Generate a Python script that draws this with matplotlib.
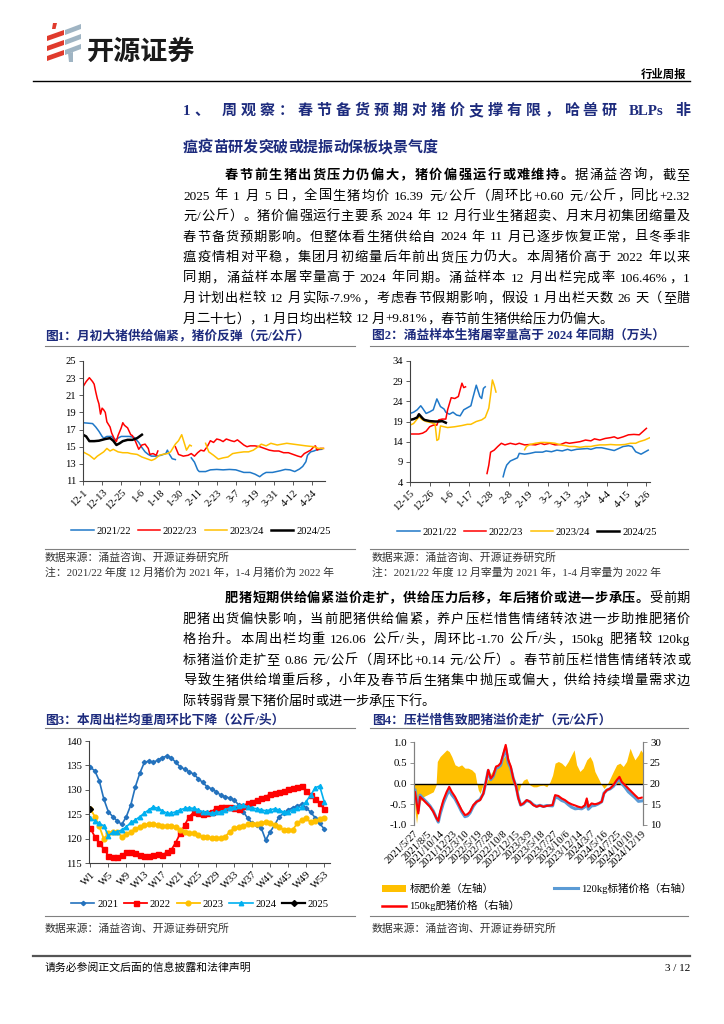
import re
import numpy as np
import matplotlib
matplotlib.use('Agg')
import matplotlib.pyplot as plt
from matplotlib.lines import Line2D
from matplotlib.patches import Polygon, Patch

FAM = ['Liberation Serif', 'Noto Sans CJK SC']
plt.rcParams['font.family'] = FAM
plt.rcParams['axes.unicode_minus'] = False

W, H = 724, 1024
NAVY = '#1d2b7d'
BLUE = '#1f78c8'
RED = '#ff0000'
YELLOW = '#ffc000'

# ---------------- chart 1: 猪价 (元/公斤), day index from 12-1 ----------------
c1_labels = ['12-1', '12-13', '12-25', '1-6', '1-18', '1-30', '2-11', '2-23',
             '3-7', '3-19', '3-31', '4-12', '4-24']
c1_day_2122 = [0, 6, 8, 10, 12, 13, 15, 18, 20, 22, 24, 27, 29, 32, 35, 37, 39, 41, 43, 46,
               49, 52, 53, 54, 56, 58, None,
               68, 70, 72, 73, 77, 80, 84, 88, 92, 96, 101, 105, 108, 111, 113, 115, 119, 124,
               127, 130, 133, 136, 138, 140, 141, 143, 145, 147, 150]
c1_val_2122 = [17.8, 17.7, 17.3, 16.8, 16.2, 16.0, 16.2, 16.2, 15.8, 16.0, 16.2, 16.2, 16.2, 16.1,
               15.5, 14.9, 14.4, 14.1, 13.9, 13.9, 14.0, 14.2, 14.6, 14.2, 13.6, 13.5, None,
               13.7, 13.2, 12.3, 12.1, 12.1, 12.3, 12.35, 12.3, 12.35, 12.3, 12.0, 12.0, 11.8,
               11.5, 11.8, 12.0, 12.0, 12.2, 12.35, 12.3, 12.1, 12.4, 12.7, 13.25, 14.0, 14.4,
               14.5, 14.65, 14.7]
c1_day_2223 = [0, 2, 4, 6, 7, 8, 9, 10, 11, 12, 13, 14, 15, 17, 18, 20, 21, 22, 24, 25,
               26, 28, 30, 31, 33, 35, 37, 39, 41, 42, 44, 46, 47, None,
               58, 60, 63, 66, 68, 70, 72, 74, 76, 78, 80, 82, 84, 86, 88, 90, 93, 95, 97, 99,
               101, 103, 105, 108, 111, 114, 117, 120, 123, 126, 129, 132, 135, 137, 139, 141,
               143, 145, 146, 147, 149, 151]
c1_val_2223 = [22.0, 22.6, 23.05, 22.6, 22.3, 21.4, 20.6, 20.0, 18.8, 19.5, 19.3, 19.0, 17.9,
               17.3, 16.6, 15.8, 15.6, 16.3, 17.2, 17.8, 17.5, 17.2, 16.4, 16.3, 15.6, 14.7,
               15.2, 15.3, 14.8, 14.1, 14.2, 14.0, 14.5, None,
               15.0, 14.1, 13.9, 14.0, 14.2, 13.9, 14.3, 14.6, 14.5, 15.0, 15.7, 15.5, 15.9,
               15.8, 15.6, 15.9, 15.7, 15.6, 15.8, 15.5, 15.2, 15.0, 15.1, 15.1, 15.0, 14.8,
               14.6, 14.5, 14.5, 14.3, 14.3, 14.1, 13.9, 13.8, 14.2, 14.4, 14.6, 15.0, 15.1,
               14.6, 14.8, 14.8]
c1_day_2324 = [0, 4, 7, 9, 13, 15, 17, 19, 22, 25, 28, 30, 34, 37, 40, 43, 45, 48, 50, 53,
               55, 58, 60, 62, 63, 65, 67, 68, None,
               77, 79, 82, 85, 88, 91, 94, 97, 101, 104, 107, 110, 112, 115, 118, 122, 125,
               128, 132, 136, 140, 145, 148, 151]
c1_val_2324 = [14.4, 14.0, 13.55, 13.9, 14.4, 14.8, 14.5, 14.7, 14.4, 14.3, 14.3, 14.2, 14.1,
               13.8, 13.6, 13.4, 13.55, 14.0, 14.1, 14.2, 14.4, 15.3, 15.7, 16.4, 15.8, 14.6,
               15.2, 15.1, None,
               15.4, 14.4, 14.0, 13.55, 13.7, 13.8, 14.2, 14.3, 14.4, 14.4, 14.6, 15.0, 15.3,
               15.1, 15.4, 15.2, 15.3, 15.4, 15.3, 15.2, 15.1, 15.0, 14.8, 14.8]
c1_day_2425 = [0, 2, 4, 7, 10, 14, 17, 19, 21, 23, 25, 28, 31, 34, 37]
c1_val_2425 = [16.4, 16.2, 15.65, 15.65, 15.7, 15.9, 16.0, 15.7, 15.2, 15.4, 15.65, 15.8, 15.8,
               16.0, 16.4]

# ---------------- chart 2: 屠宰量 (万头), day index from 12-15 ----------------
c2_labels = ['12-15', '12-26', '1-6', '1-17', '1-28', '2-8', '2-19', '3-2', '3-13', '3-24',
             '4-4', '4-15', '4-26']
c2_day_2122 = [0, 2, 4, 6, 7, 9, 11, 13, 15, 17, 19, 20, 22, 24, 26, 28, 30, 32, 34, 35, 37,
               39, 40, 41, 42, None,
               52, 53, 54, 56, 58, 60, 61, 64, 67, 70, 74, 76, 79, 82, 85, 88, 90, 93, 96, 99,
               101, 104, 107, 111, 114, 116, 119, 122, 124, 126, 128, 129, 131, 133]
c2_val_2122 = [21.0, 21.3, 21.9, 22.9, 22.3, 21.0, 21.4, 21.9, 24.6, 22.7, 22.1, 21.3, 20.8,
               21.3, 20.6, 20.4, 21.9, 22.4, 22.9, 24.7, 28.0, 25.2, 24.7, 27.2, 27.6, None,
               5.3, 7.0, 8.2, 9.2, 9.6, 10.0, 11.1, 10.9, 11.1, 11.4, 11.4, 11.7, 11.5, 11.9,
               11.7, 12.1, 11.8, 12.1, 12.2, 12.3, 12.1, 12.5, 12.5, 12.1, 11.8, 12.2, 12.8,
               13.0, 12.8, 11.5, 11.1, 10.9, 11.4, 11.9]
c2_day_2223 = [0, 5, 7, 9, 11, 13, 15, 16, 18, 20, 21, 23, 25, 27, 29, 30, 31, None,
               43, 44, 45, 47, 49, 51, 53, 56, 59, 61, 64, 67, 70, 73, 75, 78, 81, 84, 87, 89,
               92, 95, 98, 101, 103, 106, 109, 112, 114, 116, 119, 122, 125, 128, 130, 132]
c2_val_2223 = [15.9, 15.9, 16.1, 16.6, 17.7, 18.1, 18.1, 19.4, 19.6, 19.6, 21.9, 24.9, 24.7,
               25.2, 28.5, 27.4, 27.6, None,
               6.1, 8.2, 11.4, 11.9, 12.8, 13.6, 13.2, 13.6, 13.3, 13.6, 13.2, 13.3, 13.2, 13.6,
               13.3, 13.6, 13.2, 13.3, 13.8, 13.6, 13.8, 14.0, 14.4, 14.2, 14.7, 14.4, 14.8,
               15.0, 15.2, 14.8, 15.2, 15.7, 15.8, 15.7, 16.5, 17.3]
c2_day_2324 = [0, 2, 4, 5, 7, 9, 12, 14, 15, 16, 17, 19, 21, 25, 29, 32, 34, 37, 40, 42, 44,
               45, 46, 47, 48, None,
               64, 65, 67, 70, 73, 75, 78, 81, 84, 87, 89, 92, 95, 98, 101, 103, 106, 109, 112,
               115, 117, 120, 123, 126, 128, 131, 134]
c2_val_2324 = [18.1, 18.5, 19.6, 20.2, 19.4, 19.0, 18.7, 18.4, 14.3, 14.6, 17.9, 17.7, 17.5,
               17.7, 18.0, 18.3, 18.3, 19.0, 19.4, 20.0, 22.3, 25.6, 29.3, 28.0, 26.3, None,
               12.0, 12.8, 13.3, 13.6, 13.8, 13.8, 13.75, 13.6, 13.2, 13.0, 12.8, 12.8, 12.6,
               12.8, 12.8, 13.0, 13.2, 13.2, 13.3, 13.2, 13.2, 13.3, 13.6, 13.6, 14.0, 14.4,
               15.0]
c2_day_2425 = [0, 2, 4, 5, 7, 8, 11, 14, 16, 18, 20]
c2_val_2425 = [19.4, 19.6, 20.0, 20.8, 19.8, 19.4, 19.1, 19.0, 19.0, 19.1, 18.7]

# ---------------- chart 3: 出栏均重 (公斤/头), W1..W53 ----------------
c3_weeks = list(range(1, 54))
c3_2021 = [134.6, 133.9, 131.8, 128.1, 125.5, 124.5, 123.6, 122.9, 124.5, 126.9,
           130.6, 133.4, 135.6, 135.9, 135.6, 136.1, 136.6, 136.9, 136.6, 135.6,
           134.7, 134.2, 133.7, 133.2, 132.3, 131.5, 130.6, 130.2, 129.6, 128.9,
           128.6, 128.3, 127.9, 126.9, 125.5, 124.2, 123.1, 122.8, 122.2, 119.7,
           121.4, 122.8, 124.5, 125.2, 125.9, 126.3, 126.7, 127.0, 126.3, 125.4,
           124.3, 123.1, 122.0]
c3_2022 = [122.1, 120.4, 119.0, 117.9, 116.5, 116.2, 116.2, 116.6, 117.2, 117.3,
           117.0, 116.6, 116.5, 116.5, 116.6, 116.8, 116.6, 117.2, 117.7, 119.2,
           121.1, 122.8, 124.5, 125.4, 125.2, 125.0, 125.2, 125.5, 126.3, 126.5,
           126.5, 126.5, 126.3, 126.1, 126.7, 127.2, 127.6, 127.9, 128.3, 128.6,
           129.1, 129.3, 129.6, 129.8, 130.2, 130.3, 130.6, 130.8, 129.8, 128.9,
           128.1, 127.2, 126.1]
c3_2023 = [126.1, 124.5, 122.5, 119.9, 121.1, 121.3, 121.4, 120.4, 120.9, 121.4,
           121.9, 122.4, 122.8, 122.9, 122.9, 122.8, 122.6, 122.6, 122.6, 122.4,
           121.8, 121.4, 121.2, 121.1, 120.7, 120.4, 120.3, 120.1, 120.1, 120.1,
           120.4, 121.4, 122.1, 122.4, 122.6, 122.9, 122.9, 122.9, 123.1, 123.5,
           123.1, 122.8, 122.4, 121.8, 121.8, 121.8, 123.1, 123.8, 124.2, 123.3,
           123.6, 124.0, 124.3]
c3_2024 = [124.2, 123.6, 123.1, 122.6, 120.6, 121.3, 121.4, 121.8, 122.4, 123.3,
           123.8, 124.5, 125.2, 125.9, 126.5, 126.2, 125.7, 125.2, 125.2, 125.5,
           125.9, 126.2, 126.3, 126.2, 125.9, 125.5, 125.4, 125.2, 125.4, 125.5,
           125.9, 126.3, 126.5, 126.7, 126.9, 126.5, 126.3, 126.1, 125.9, 125.7,
           125.9, 126.1, 125.9, 125.4, 125.5, 125.9, 126.2, 126.5, 127.6, 128.9,
           130.4, 130.8, 127.6]
c3_2025 = [126.1]

# ---------------- chart 4: 标肥价差 / 标猪 / 肥猪, trading-day index ----------------
c4_labels = ['2021/5/27', '2021/8/5', '2021/10/14', '2021/12/23', '2022/3/10', '2022/5/19',
             '2022/7/28', '2022/10/8', '2022/12/15', '2023/3/9', '2023/5/18', '2023/7/27',
             '2023/10/6', '2023/12/14', '2024/3/7', '2024/5/16', '2024/7/25', '2024/10/10',
             '2024/12/19']
c4_spread_idx = [0, 5, 10, 17, 24, 37, 50, 63, 76, 87, 92, 103, 116, 129, 139, 149, 162, 175,
                 188, 201, 214, 228, 241, 247, 254, 261, 267, 276, 287, 300, 313, 324, 333,
                 342, 353, 362, 372, 382, 392, 403, 412, 421, 432, 445, 458, 471, 484, 497,
                 511, 524, 537, 547, 557, 570, 583, 596, 609, 622, 632, 642, 655, 668, 682,
                 695, 705, 714, 728, 741, 750, 761, 774, 787, 800, 813, 826, 839, 853, 863,
                 872, 886, 895, 904]
c4_spread = [-0.25, -0.7, -0.96, -0.6, -0.44, -0.32, -0.28, -0.24, -0.2, -0.04,
             0.53, 0.65, 0.73, 0.81, 0.77, 0.65, 0.45, 0.41, 0.45, 0.37,
             0.37, 0.33, 0.25, 0.04, -0.16, -0.24, -0.12, 0.0, 0.04, 0.2,
             0.33, 0.37, 0.41, 0.49, 0.61, 0.69, 0.65, 0.37, 0.04, -0.08,
             -0.2, -0.04, 0.08, 0.12, -0.04, -0.08, -0.08, -0.05, -0.04, -0.08,
             0.04, 0.2, 0.49, 0.53, 0.49, 0.41, 0.53, 0.69, 0.81, 0.45,
             0.29, 0.37, 0.57, 0.65, 0.53, 0.29, 0.12, -0.04, -0.12, -0.04,
             0.12, 0.29, 0.45, 0.49, 0.41, 0.53, 0.85, 0.69, 0.57, 0.69,
             0.81, 0.73]
c4_price_idx = [4, 17, 24, 37, 50, 63, 76, 89, 96, 103, 116, 129, 139, 149, 162, 175, 188, 201,
                211, 221, 234, 247, 261, 274, 284, 293, 303, 313, 324, 333, 342, 353, 362,
                372, 382, 392, 403, 412, 421, 432, 445, 458, 471, 484, 497, 511, 524, 537,
                547, 557, 570, 583, 596, 609, 622, 636, 649, 662, 675, 682, 688, 701, 714,
                728, 741, 750, 761, 774, 787, 800, 811, 820, 833, 846, 859, 872, 886, 899]
c4_fat150 = [17.9, 12.8, 16.8, 16.0, 15.2, 14.4, 13.2, 11.6, 11.0, 13.2,
             16.0, 18.0, 19.2, 18.0, 16.8, 15.2, 13.6, 12.4, 12.6, 13.2,
             14.8, 15.6, 16.0, 17.6, 20.4, 23.3, 21.2, 22.0, 24.1, 24.3,
             24.9, 27.3, 29.3, 25.7, 24.1, 21.2, 19.2, 16.4, 14.8, 15.2,
             16.0, 15.6, 14.8, 14.4, 14.7, 14.4, 14.6, 14.7, 14.8, 17.2,
             17.0, 16.4, 16.0, 15.4, 15.0, 14.7, 14.4, 14.2, 14.8, 16.4,
             14.4, 15.2, 15.0, 15.2, 15.6, 17.6, 18.4, 18.8, 19.6, 20.8,
             21.6, 20.4, 19.6, 18.8, 18.0, 17.2, 16.4, 16.6]
c4_std120 = [18.4, 13.5, 17.2, 16.3, 15.5, 14.6, 13.4, 11.6, 10.7, 12.6,
             15.3, 17.2, 18.4, 17.3, 16.3, 14.8, 13.2, 12.0, 12.2, 12.9,
             14.5, 15.6, 16.2, 17.6, 20.4, 23.1, 20.9, 21.7, 23.7, 23.9,
             24.4, 26.7, 28.6, 25.0, 23.7, 21.2, 19.3, 16.6, 14.8, 15.1,
             15.9, 15.6, 14.9, 14.5, 14.75, 14.45, 14.7, 14.65, 14.6, 16.7,
             16.5, 15.9, 15.6, 14.9, 14.3, 13.9, 14.0, 13.9, 14.4, 15.8,
             13.8, 14.6, 14.7, 15.1, 15.6, 17.7, 18.4, 18.7, 19.3, 20.4,
             21.1, 20.0, 19.1, 18.0, 17.3, 16.6, 15.7, 15.8]


def arr(v):
    return np.array(v, dtype=float)


def fx(x):
    return x / W


def fy(y):
    return 1 - y / H


fig = plt.figure(figsize=(W / 100, H / 100), dpi=100)
fig.patch.set_facecolor('white')
R = fig.canvas.get_renderer()


def hline(x0, x1, y, color='#808080', lw=0.8):
    fig.add_artist(Line2D([fx(x0), fx(x1)], [fy(y), fy(y)], transform=fig.transFigure,
                          color=color, lw=lw))


def poly(pts, color):
    fig.add_artist(Polygon([(fx(x), fy(y)) for x, y in pts], closed=True,
                           transform=fig.transFigure, facecolor=color, lw=0))


TOK = re.compile(r'[A-Za-z0-9.%+\-/]+| +|.')


def text_line(x0, y, segs, x1=None, size=9.5, color='black'):
    # y is the baseline in page pixels; x1 given -> justified line
    items = []
    for s, bold in segs:
        for t in TOK.findall(s):
            items.append((t, bold))
    arts, widths = [], []
    for t, bold in items:
        if t.strip() == '':
            arts.append(None)
            widths.append(size * 100 / 72 * 0.25 * len(t))
            continue
        a = fig.text(0, 0, t, fontsize=size, fontweight='bold' if bold else 'normal',
                     color=color, family=FAM, va='baseline', ha='left')
        arts.append(a)
        widths.append(a.get_window_extent(R).width)
    gap = 0
    if x1 is not None and len(items) > 1:
        gap = (x1 - x0 - sum(widths)) / (len(items) - 1)
    x = x0
    for a, w in zip(arts, widths):
        if a is not None:
            a.set_position((fx(x), fy(y)))
        x += w + gap


def make_ax(l, t, r, b):
    return fig.add_axes([fx(l), fy(b), (r - l) / W, (b - t) / H])


def style_ax(ax, size=7.6):
    for s in ['top', 'right']:
        ax.spines[s].set_visible(False)
    for s in ['left', 'bottom']:
        ax.spines[s].set_color('#404040')
        ax.spines[s].set_linewidth(0.8)
    ax.tick_params(labelsize=size, length=3, width=0.6, color='#404040', direction='out', pad=2)


# ---------------- page header ----------------
LOGO_R, LOGO_G = '#e03a2c', '#9fb4c3'
poly([(53, 23), (57, 23), (55.5, 29), (52, 29)], LOGO_R)
for yc in (32, 42, 52):
    poly([(47, yc + 4), (64, yc - 2), (64, yc + 3), (47, yc + 9)], LOGO_R)
for yc in (27, 37, 47):
    poly([(65, yc + 3), (81, yc - 3), (81, yc + 2), (65, yc + 8)], LOGO_G)
poly([(68, 53), (73, 52), (73, 62), (69, 62)], LOGO_G)
fig.text(fx(87), fy(60), '开源证券', fontsize=19.5, fontweight='heavy', family='Noto Sans CJK SC',
         color='#1a1a1a', va='baseline', ha='left')
fig.text(fx(686), fy(78), '行业周报', fontsize=8.2, fontweight='bold', family=FAM,
         color='black', va='baseline', ha='right')
hline(33, 690, 81, color='black', lw=1.0)

# ---------------- heading + paragraph 1 ----------------
X0, X1 = 183, 690
text_line(X0, 115, [('1、 周观察：春节备货预期对猪价支撑有限，哈兽研 BLPs 非', True)], X1,
          size=10.8, color=NAVY)
text_line(X0, 152, [('瘟疫苗研发突破或提振动保板块景气度', True)], None, size=10.8, color=NAVY)

para1 = [
    [('春节前生猪出货压力仍偏大，猪价偏强运行或难维持。', True), ('据涌益咨询，截至', False)],
    [('2025 年 1 月 5 日，全国生猪均价 16.39 元/公斤（周环比+0.60 元/公斤，同比+2.32', False)],
    [('元/公斤）。猪价偏强运行主要系 2024 年 12 月行业生猪超卖、月末月初集团缩量及', False)],
    [('春节备货预期影响。但整体看生猪供给自 2024 年 11 月已逐步恢复正常，且冬季非', False)],
    [('瘟疫情相对平稳，集团月初缩量后年前出货压力仍大。本周猪价高于 2022 年以来', False)],
    [('同期，涌益样本屠宰量高于 2024 年同期。涌益样本 12 月出栏完成率 106.46%，1', False)],
    [('月计划出栏较 12 月实际-7.9%，考虑春节假期影响，假设 1 月出栏天数 26 天（至腊', False)],
    [('月二十七），1 月日均出栏较 12 月+9.81%，春节前生猪供给压力仍偏大。', False)],
]
for i, segs in enumerate(para1):
    yb = 179 + i * 20.5
    x_start = X0 + 42 if i == 0 else X0
    text_line(x_start, yb, segs, None if i == len(para1) - 1 else X1)

para2 = [
    [('肥猪短期供给偏紧溢价走扩，供给压力后移，年后猪价或进一步承压。', True), ('受前期', False)],
    [('肥猪出货偏快影响，当前肥猪供给偏紧，养户压栏惜售情绪转浓进一步助推肥猪价', False)],
    [('格抬升。本周出栏均重 126.06 公斤/头，周环比-1.70 公斤/头，150kg 肥猪较 120kg', False)],
    [('标猪溢价走扩至 0.86 元/公斤（周环比+0.14 元/公斤）。春节前压栏惜售情绪转浓或', False)],
    [('导致生猪供给增重后移，小年及春节后生猪集中抛压或偏大，供给持续增量需求边', False)],
    [('际转弱背景下猪价届时或进一步承压下行。', False)],
]
for i, segs in enumerate(para2):
    yb = 602 + i * 20.6
    x_start = X0 + 42 if i == 0 else X0
    text_line(x_start, yb, segs, None if i == len(para2) - 1 else X1)

# ---------------- figure titles / separators / sources ----------------
LX0, LX1, RX0, RX1 = 45, 355, 370, 688
TS = 9.2
fig.text(fx(LX0), fy(339), '图1：月初大猪供给偏紧，猪价反弹（元/公斤）', fontsize=TS, fontweight='bold',
         color=NAVY, family=FAM, va='baseline')
fig.text(fx(RX0 + 2), fy(339), '图2：涌益样本生猪屠宰量高于 2024 年同期（万头）', fontsize=TS,
         fontweight='bold', color=NAVY, family=FAM, va='baseline')
fig.text(fx(LX0), fy(724), '图3：本周出栏均重周环比下降（公斤/头）', fontsize=TS, fontweight='bold',
         color=NAVY, family=FAM, va='baseline')
fig.text(fx(RX0 + 2), fy(724), '图4：压栏惜售致肥猪溢价走扩（元/公斤）', fontsize=TS, fontweight='bold',
         color=NAVY, family=FAM, va='baseline')
for y in (346, 549, 728, 916):
    hline(LX0, LX1, y)
    hline(RX0, RX1, y)

SS = 7.8
SC = '#333333'
src = '数据来源：涌益咨询、开源证券研究所'
fig.text(fx(LX0), fy(561), src, fontsize=SS, color=SC, family=FAM, va='baseline')
fig.text(fx(RX0 + 2), fy(561), src, fontsize=SS, color=SC, family=FAM, va='baseline')
fig.text(fx(LX0), fy(576), '注：2021/22 年度 12 月猪价为 2021 年，1-4 月猪价为 2022 年', fontsize=SS,
         color=SC, family=FAM, va='baseline')
fig.text(fx(RX0 + 2), fy(576), '注：2021/22 年度 12 月宰量为 2021 年，1-4 月宰量为 2022 年',
         fontsize=SS, color=SC, family=FAM, va='baseline')
fig.text(fx(LX0), fy(932), src, fontsize=SS, color=SC, family=FAM, va='baseline')
fig.text(fx(RX0 + 2), fy(932), src, fontsize=SS, color=SC, family=FAM, va='baseline')

# footer
hline(33, 690, 956, color='#555555', lw=1.6)
fig.text(fx(45), fy(971), '请务必参阅正文后面的信息披露和法律声明', fontsize=7.8, color='black',
         family=FAM, va='baseline')
fig.text(fx(690), fy(971), '3 / 12', fontsize=8, color='black', family=FAM, va='baseline',
         ha='right')

LEG = {'family': FAM, 'size': 7.6}

# ---------------- chart 1 ----------------
ax1 = make_ax(83, 361, 325, 481)
style_ax(ax1)
ax1.plot(arr(c1_day_2122), arr(c1_val_2122), color=BLUE, lw=1.1, label='2021/22')
ax1.plot(arr(c1_day_2223), arr(c1_val_2223), color=RED, lw=1.1, label='2022/23')
ax1.plot(arr(c1_day_2324), arr(c1_val_2324), color=YELLOW, lw=1.1, label='2023/24')
ax1.plot(arr(c1_day_2425), arr(c1_val_2425), color='black', lw=1.8, label='2024/25')
ax1.set_xlim(0, 152)
ax1.set_ylim(11, 25)
ax1.set_yticks(range(11, 26, 2))
ax1.set_xticks(range(0, 12 * len(c1_labels), 12))
ax1.set_xticklabels(c1_labels, rotation=45, ha='right', rotation_mode='anchor')
ax1.legend(ncol=4, loc='center', bbox_to_anchor=(fx(201), fy(531)), bbox_transform=fig.transFigure,
           frameon=False, prop=LEG, handlelength=2.1, handletextpad=0.25, columnspacing=0.7,
           borderaxespad=0, borderpad=0)

# ---------------- chart 2 ----------------
ax2 = make_ax(410, 361, 650, 482)
style_ax(ax2)
ax2.plot(arr(c2_day_2122), arr(c2_val_2122), color=BLUE, lw=1.1, label='2021/22')
ax2.plot(arr(c2_day_2223), arr(c2_val_2223), color=RED, lw=1.1, label='2022/23')
ax2.plot(arr(c2_day_2324), arr(c2_val_2324), color=YELLOW, lw=1.1, label='2023/24')
ax2.plot(arr(c2_day_2425), arr(c2_val_2425), color='black', lw=1.8, label='2024/25')
ax2.set_xlim(0, 134)
ax2.set_ylim(4, 34)
ax2.set_yticks(range(4, 35, 5))
ax2.set_xticks(range(0, 11 * len(c2_labels), 11))
ax2.set_xticklabels(c2_labels, rotation=45, ha='right', rotation_mode='anchor')
ax2.legend(ncol=4, loc='center', bbox_to_anchor=(fx(527), fy(532)), bbox_transform=fig.transFigure,
           frameon=False, prop=LEG, handlelength=2.1, handletextpad=0.25, columnspacing=0.7,
           borderaxespad=0, borderpad=0)

# ---------------- chart 3 ----------------
ax3 = make_ax(89, 741, 330, 863)
style_ax(ax3)
wk = arr(c3_weeks)
ax3.plot(wk, arr(c3_2021), color='#2472bd', lw=1.2, marker='D', ms=2.2, label='2021')
ax3.plot(wk, arr(c3_2022), color=RED, lw=1.3, marker='s', ms=3.6, label='2022')
ax3.plot(wk, arr(c3_2023), color=YELLOW, lw=1.3, marker='o', ms=3.4, label='2023')
ax3.plot(wk, arr(c3_2024), color='#00b0f0', lw=1.2, marker='^', ms=3.2, label='2024')
ax3.plot(wk[:len(c3_2025)], arr(c3_2025), color='black', lw=1.6, marker='D', ms=3.0, label='2025')
ax3.set_xlim(0.7, 54.3)
ax3.set_ylim(115, 140)
ax3.set_yticks(range(115, 141, 5))
ax3.set_xticks(c3_weeks[::4])
ax3.set_xticklabels(['W%d' % w for w in c3_weeks[::4]], rotation=45, ha='right',
                    rotation_mode='anchor')
ax3.legend(ncol=5, loc='center', bbox_to_anchor=(fx(200), fy(904)), bbox_transform=fig.transFigure,
           frameon=False, prop=LEG, handlelength=2.2, handletextpad=0.25, columnspacing=0.55,
           borderaxespad=0, borderpad=0)

# ---------------- chart 4 ----------------
ax4 = make_ax(414, 742, 643, 825)
ax4r = ax4.twinx()
ax4.fill_between(arr(c4_spread_idx), arr(c4_spread), 0, color=YELLOW, lw=0, label='标肥价差（左轴）')
ax4.axhline(0, color='black', lw=1.0)
ax4r.plot(arr(c4_price_idx), arr(c4_std120), color='#5b9bd5', lw=2.2, label='120kg标猪价格（右轴）')
ax4r.plot(arr(c4_price_idx), arr(c4_fat150), color=RED, lw=1.5, label='150kg肥猪价格（右轴）')
ax4.set_xlim(0, 904)
ax4.set_ylim(-1.0, 1.0)
ax4r.set_ylim(10, 30)
ax4.set_yticks([-1.0, -0.5, 0.0, 0.5, 1.0])
ax4.set_yticklabels(['%.1f' % v for v in [-1.0, -0.5, 0.0, 0.5, 1.0]])
ax4r.set_yticks(range(10, 31, 5))
for a in (ax4, ax4r):
    for s in ['top', 'bottom']:
        a.spines[s].set_visible(False)
    for s in ['left', 'right']:
        a.spines[s].set_color('#808080')
        a.spines[s].set_linewidth(0.8)
    a.tick_params(axis='y', labelsize=7.8, length=3, width=0.6, color='#808080', pad=2)
ax4.set_xticks(range(0, 50 * len(c4_labels), 50))
ax4.set_xticklabels(c4_labels, rotation=45, ha='right', rotation_mode='anchor')
ax4.tick_params(axis='x', labelsize=7.6, length=0, pad=3)
h_fill = Patch(facecolor=YELLOW, edgecolor='none')
h_blue = Line2D([], [], color='#5b9bd5', lw=2.2)
h_red = Line2D([], [], color=RED, lw=1.8)
ax4.legend([h_fill, h_red, h_blue], ['标肥价差（左轴）', '150kg肥猪价格（右轴）', '120kg标猪价格（右轴）'],
           ncol=2, loc='upper left', bbox_to_anchor=(fx(382), fy(883)), bbox_transform=fig.transFigure,
           frameon=False, prop=LEG, handlelength=2.3, handletextpad=0.3, columnspacing=3.2,
           labelspacing=0.6, borderaxespad=0, borderpad=0)

fig.savefig('out.png', dpi=100)
